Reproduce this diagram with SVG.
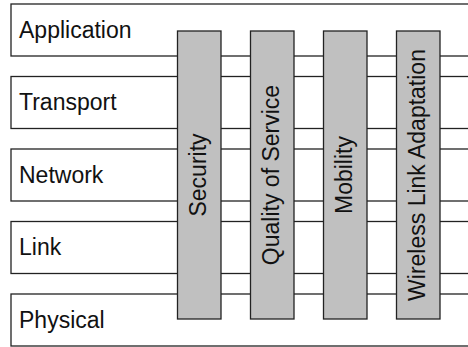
<svg xmlns="http://www.w3.org/2000/svg" width="468" height="347" viewBox="0 0 468 347">
  <style>
    .layer { fill: #ffffff; stroke: #222222; stroke-width: 1.3; }
    .plane { fill: #c0c0c0; stroke: #222222; stroke-width: 1.3; }
    .label { font-family: "Liberation Sans", Arial, Helvetica, sans-serif; font-size: 23px; fill: #111111; }
    .vlabel { text-anchor: middle; }
  </style>
  <rect width="468" height="347" fill="#ffffff"/>

  <!-- protocol layers -->
  <g id="layer-application">
    <rect class="layer" x="11" y="4" width="470" height="52"/>
    <text class="label" x="19" y="37.5">Application</text>
  </g>
  <g id="layer-transport">
    <rect class="layer" x="11" y="76.5" width="470" height="52"/>
    <text class="label" x="19" y="110">Transport</text>
  </g>
  <g id="layer-network">
    <rect class="layer" x="11" y="149" width="470" height="52"/>
    <text class="label" x="19" y="182.5">Network</text>
  </g>
  <g id="layer-link">
    <rect class="layer" x="11" y="221.5" width="470" height="52"/>
    <text class="label" x="19" y="255">Link</text>
  </g>
  <g id="layer-physical">
    <rect class="layer" x="11" y="294" width="470" height="52"/>
    <text class="label" x="19" y="327.5">Physical</text>
  </g>

  <!-- cross-layer planes -->
  <g id="plane-security">
    <rect class="plane" x="177.5" y="31" width="43.5" height="288"/>
    <text class="label vlabel" transform="translate(206 175) rotate(-90)">Security</text>
  </g>
  <g id="plane-qos">
    <rect class="plane" x="250.5" y="31" width="43.5" height="288"/>
    <text class="label vlabel" transform="translate(279 175) rotate(-90)">Quality of Service</text>
  </g>
  <g id="plane-mobility">
    <rect class="plane" x="323.5" y="31" width="43.5" height="288"/>
    <text class="label vlabel" transform="translate(352 175) rotate(-90)">Mobility</text>
  </g>
  <g id="plane-wireless">
    <rect class="plane" x="396.5" y="31" width="43.5" height="288"/>
    <text class="label vlabel" transform="translate(425 175) rotate(-90)">Wireless Link Adaptation</text>
  </g>

  <g id="connectors"/>
</svg>
